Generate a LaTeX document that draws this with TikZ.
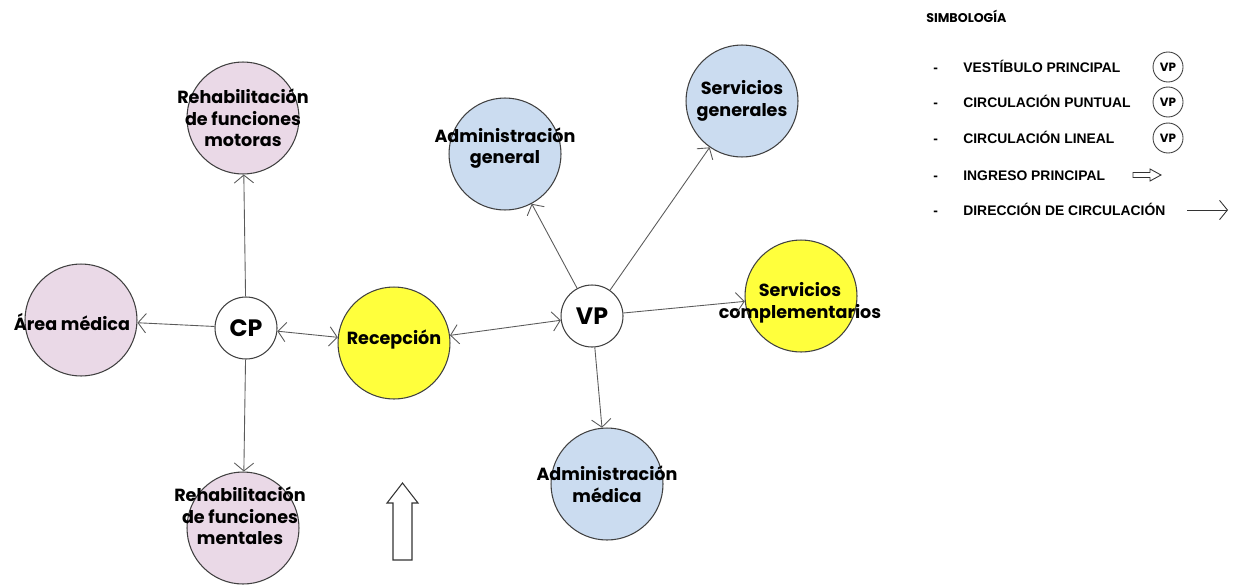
\documentclass[tikz,border=0pt]{standalone}
\usepackage{fontspec}
\setmainfont{Liberation Sans}
\newfontfamily\geofont{Poppins}
\usepackage{xcolor}
\usetikzlibrary{arrows.meta}

\definecolor{rosa}{RGB}{234,217,231}
\definecolor{celeste}{RGB}{203,220,240}
\definecolor{amarillo}{RGB}{255,255,60}
\definecolor{trazo}{RGB}{90,90,90}

\begin{document}
\begin{tikzpicture}[
    x=0.02cm, y=-0.02cm,
    zona/.style={circle, draw=black!75, line width=0.6pt, minimum size=2.24cm, inner sep=0pt, fill=#1},
    zona/.default=rosa,
    texto/.style={align=center, inner sep=0pt, font=\geofont\bfseries\fontsize{10}{12.3}\selectfont},
    nucleo/.style={circle, draw=black!75, line width=0.6pt, minimum size=1.24cm, inner sep=0pt, fill=white, font=\geofont\bfseries\fontsize{13.5}{14}\selectfont},
    mini/.style={circle, draw=black!75, line width=0.5pt, minimum size=0.6cm, inner sep=0pt, font=\geofont\bfseries\fontsize{6.8}{7}\selectfont},
    flujo/.style={-{Straight Barb[length=4.5pt,width=11pt]}, line width=0.5pt, color=trazo},
    doble/.style={{Straight Barb[length=4.5pt,width=11pt]}-{Straight Barb[length=4.5pt,width=11pt]}, line width=0.5pt, color=trazo},
    ley/.style={anchor=base west, inner sep=0pt, font=\fontsize{7.9}{9}\selectfont\bfseries},
    ingreso/.style={draw=black!80, line width=0.6pt, fill=white}
]
    \useasboundingbox (0,0) rectangle (1236,585);

    % Circulacion puntual (CP) y sus zonas
    \node[nucleo] (cp) at (246,328) {CP};
    \node[zona=rosa] (motoras) at (243,118) {};
    \node[zona=rosa] (area) at (81,320) {};
    \node[zona=rosa] (mentales) at (243,528) {};
    \node[zona=amarillo] (recep) at (394,343) {};

    % Vestibulo principal (VP) y sus zonas
    \node[nucleo] (vp) at (592,316) {VP};
    \node[zona=celeste] (admgen) at (505,154) {};
    \node[zona=celeste] (servgen) at (742,101) {};
    \node[zona=amarillo] (servcomp) at (801,296) {};
    \node[zona=celeste] (admmed) at (607,484) {};

    % Textos encima de los circulos
    \node[texto] (motoras-t) at (243,118) {Rehabilitación\\de funciones\\motoras};
    \node[texto] (area-t) at (72,322) {Área médica};
    \node[texto] (mentales-t) at (240,516) {Rehabilitación\\de funciones\\mentales};
    \node[texto] (recep-t) at (394,340) {Recepción};
    \node[texto] (admgen-t) at (505,148) {Administración\\general};
    \node[texto] (servgen-t) at (742,101) {Servicios\\generales};
    \node[texto] (servcomp-t) at (800,303) {Servicios\\complementarios};
    \node[texto] (admmed-t) at (607,484) {Administración\\médica};

    % Conexiones
    \draw[flujo] (cp) -- (motoras);
    \draw[flujo] (cp) -- (mentales);
    \draw[flujo] (cp) -- (area);
    \draw[doble] (cp) -- (recep);
    \draw[doble] (recep) -- (vp);
    \foreach \z in {admgen,servgen,servcomp,admmed} {
        \draw[flujo] (vp) -- (\z);
    }

    % Ingreso principal
    \draw[ingreso] (393,560) -- (393,503) -- (387,503) -- (402.5,483) -- (418,503) -- (412,503) -- (412,560) -- cycle;

    % Simbologia
    \node[anchor=west, inner sep=0pt, font=\geofont\bfseries\fontsize{7.2}{8}\selectfont] (simb) at (926,16) {SIMBOLOGÍA};
    \foreach \y/\t [count=\i] in {67/VESTÍBULO PRINCIPAL, 102/CIRCULACIÓN PUNTUAL, 138/CIRCULACIÓN LINEAL, 175/INGRESO PRINCIPAL, 210/DIRECCIÓN DE CIRCULACIÓN} {
        \node[ley] (guion\i) at (933,\y+5) {-};
        \node[ley] (ley\i) at (963,\y+5) {\t};
    }
    \foreach \y [count=\i] in {67,102,138} {
        \node[mini] (vp\i) at (1168,\y) {VP};
    }
    \draw[ingreso, line width=0.5pt] (1133,172.5) -- (1150,172.5) -- (1150,169) -- (1161,175) -- (1150,181) -- (1150,177.5) -- (1133,177.5) -- cycle;
    \coordinate (dir-a) at (1187,210);
    \coordinate (dir-b) at (1228,210);
    \draw[flujo, color=black!80] (dir-a) -- (dir-b);

\end{tikzpicture}
\end{document}
